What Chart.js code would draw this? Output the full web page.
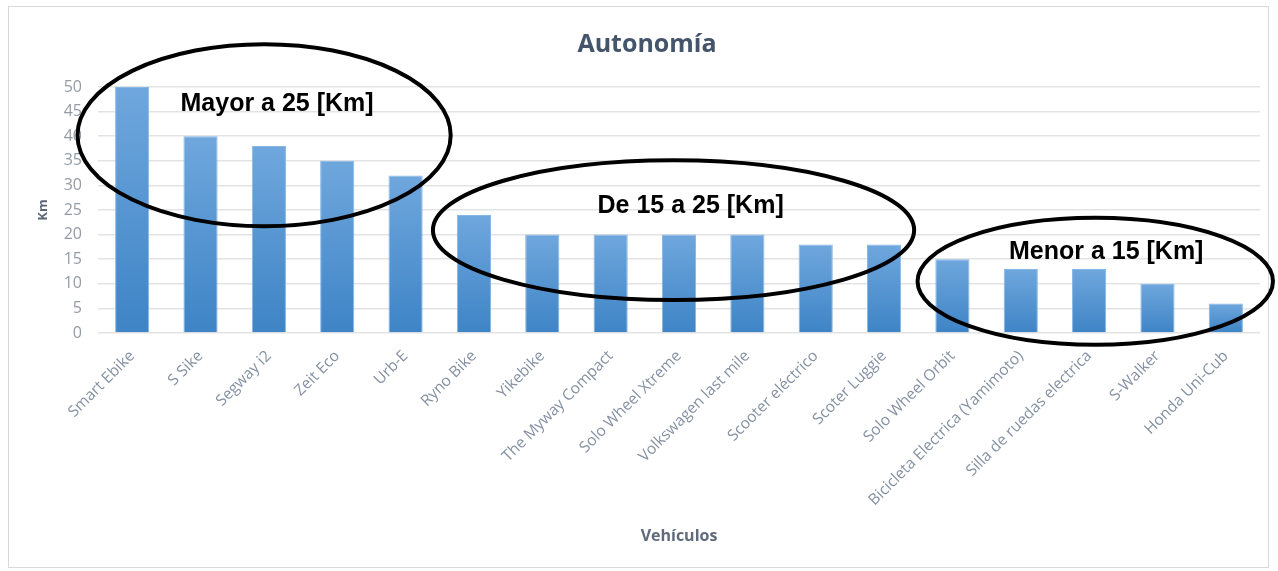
<!DOCTYPE html>
<html>
<head>
<meta charset="utf-8">
<script src="https://cdn.jsdelivr.net/npm/chart.js@4.4.1/dist/chart.umd.min.js"></script>
<style>
  html, body { margin: 0; padding: 0; background: #fff; }
  #wrap { width: 1278px; height: 571px; }
</style>
</head>
<body>
<div id="wrap"><canvas id="myChart" width="1278" height="571"></canvas></div>
<script>
const vehiculos = [
    "Smart Ebike", "S Sike", "Segway i2", "Zeit Eco", "Urb-E", "Ryno Bike",
    "Yikebike", "The Myway Compact", "Solo Wheel Xtreme", "Volkswagen last mile",
    "Scooter eléctrico", "Scoter Luggie", "Solo Wheel Orbit",
    "Bicicleta Electrica (Yamimoto)", "Silla de ruedas electrica", "S-Walker", "Honda Uni-Cub"
];
const autonomia = [50, 40, 38, 35, 32, 24, 20, 20, 20, 20, 18, 18, 15, 13, 13, 10, 6];
const yTicks = [0, 5, 10, 15, 20, 25, 30, 35, 40, 45, 50];

// grupos marcados a mano sobre el grafico (en unidades de categoria / km)
const grupos = [
    { texto: "Mayor a 25 [Km]", cx: 1.93, cy: 40.2, rx: 2.73, ry: 18.5, tx: 2.12, ty: 46.5 },
    { texto: "De 15 a 25 [Km]", cx: 7.92, cy: 20.9, rx: 3.52, ry: 14.2, tx: 8.17, ty: 25.8 },
    { texto: "Menor a 15 [Km]", cx: 14.09, cy: 10.5, rx: 2.6, ry: 12.9, tx: 14.25, ty: 16.5 }
];

function barGradient(context) {
    const chart = context.chart;
    const { ctx, chartArea, scales } = chart;
    if (!chartArea || context.dataIndex === undefined) return "#4a8fd0";
    const top = scales.y.getPixelForValue(autonomia[context.dataIndex]);
    const bottom = scales.y.getPixelForValue(0);
    const g = ctx.createLinearGradient(0, top, 0, bottom);
    g.addColorStop(0, "#6fa7dd");
    g.addColorStop(1, "#3e84c6");
    return g;
}

const marcoPlugin = {
    id: "marco",
    beforeDraw(chart) {
        const ctx = chart.ctx;
        ctx.save();
        ctx.strokeStyle = "#d9d9d9";
        ctx.lineWidth = 1;
        ctx.strokeRect(8.5, 6.5, 1260, 561);
        ctx.restore();
    }
};

const gruposPlugin = {
    id: "grupos",
    afterDatasetsDraw(chart) {
        const { ctx, scales } = chart;
        const x = scales.x, y = scales.y;
        ctx.save();
        grupos.forEach(gr => {
            const cx = x.getPixelForValue(gr.cx);
            const cy = y.getPixelForValue(gr.cy);
            const rx = x.getPixelForValue(gr.cx + gr.rx) - cx;
            const ry = cy - y.getPixelForValue(gr.cy + gr.ry);
            ctx.beginPath();
            ctx.ellipse(cx, cy, rx, ry, 0, 0, Math.PI * 2);
            ctx.lineWidth = 4;
            ctx.strokeStyle = "#000";
            ctx.stroke();

            ctx.font = "bold 25px 'Liberation Sans', Arial, sans-serif";
            ctx.fillStyle = "#000";
            ctx.textAlign = "center";
            ctx.textBaseline = "middle";
            ctx.fillText(gr.texto, x.getPixelForValue(gr.tx), y.getPixelForValue(gr.ty));
        });
        ctx.restore();
    }
};

const info = {
    labels: vehiculos,
    datasets: [
        {
            label: "Autonomía",
            data: autonomia,
            backgroundColor: barGradient,
            borderColor: "#86b6e4",
            borderWidth: 1,
            barPercentage: 0.5,
            categoryPercentage: 1.0,
        }
    ]
};

const config = {
    type: "bar",
    data: info,
    options: {
        responsive: false,
        animation: false,
        layout: {
            padding: { top: 20, left: 34, right: 18, bottom: 16 }
        },
        scales: {
            x: {
                grid: { display: false },
                border: { display: false },
                afterFit: scale => { scale.height = 222; },
                ticks: {
                    color: "#8591a3",
                    font: { family: "'Open Sans', sans-serif", size: 15.5 },
                    padding: 6,
                    minRotation: 45,
                    maxRotation: 45,
                    autoSkip: false,
                },
                title: {
                    display: true,
                    text: "Vehículos",
                    color: "#5f6b7d",
                    font: { family: "'Open Sans', sans-serif", size: 16, weight: "bold" },
                    padding: { top: 4, bottom: 9 },
                },
            },
            y: {
                min: 0,
                max: 50,
                afterFit: scale => { scale.width = 64; },
                afterBuildTicks: scale => { scale.ticks = yTicks.map(v => ({ value: v })); },
                grid: { color: "#e3e3e3", drawTicks: false, lineWidth: 1.5 },
                border: { display: false },
                ticks: {
                    color: "#959ba6",
                    padding: 16,
                    font: { family: "'Open Sans', sans-serif", size: 16 },
                },
                title: {
                    display: true,
                    text: "Km",
                    color: "#5a6578",
                    font: { family: "'Open Sans', sans-serif", size: 13, weight: "bold" },
                    padding: { top: 1, bottom: 0 },
                },
            },
        },
        plugins: {
            legend: { display: false },
            tooltip: { enabled: false },
            title: {
                display: true,
                text: "Autonomía",
                color: "#44546a",
                font: { family: "'Open Sans', sans-serif", size: 25, weight: "bold" },
                padding: { top: 10, bottom: 27 },
            },
        }
    },
    plugins: [marcoPlugin, gruposPlugin]
};

let expensesChart = new Chart("myChart", config);
</script>
</body>
</html>
